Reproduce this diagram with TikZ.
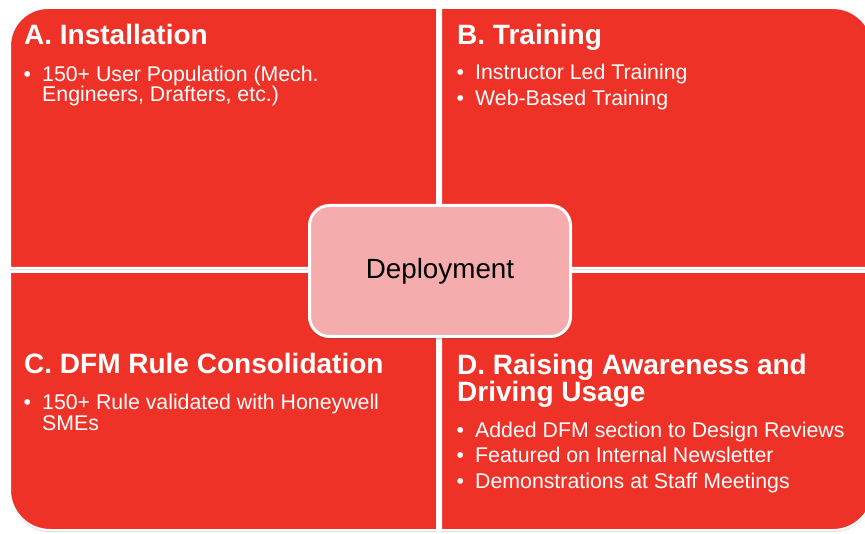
\documentclass[tikz,border=0pt]{standalone}
\usepackage{fontspec}
\setmainfont{Liberation Sans}
\usetikzlibrary{shadows}
\definecolor{quadred}{RGB}{238,50,39}
\definecolor{centerpink}{RGB}{244,173,172}
\begin{document}
\begin{tikzpicture}[x=1pt,y=-1pt,
  quad/.style={fill=quadred, draw=white, line width=2pt,
    drop shadow={shadow xshift=0pt, shadow yshift=-2pt, opacity=0.22, fill=black!60}},
  ttl/.style={anchor=base west, inner sep=0pt, text=white,
    font=\fontsize{28}{28}\selectfont\bfseries},
  bul/.style={anchor=base west, inner sep=0pt, text=white,
    font=\fontsize{21.3}{21}\selectfont},
  centerbox/.style={draw=white, line width=3pt, fill=centerpink, rounded corners=20pt,
    minimum width=261pt, minimum height=131pt, text=black,
    font=\fontsize{27.8}{30}\selectfont,
    drop shadow={shadow xshift=0pt, shadow yshift=-3pt, opacity=0.3, fill=black!70}},
]
\newcommand{\bulletmark}{\makebox[0pt][r]{\textbullet\hspace{11pt}}}
\useasboundingbox (0,0) rectangle (865,534);
\fill[white] (0,0) rectangle (865,534);
\clip (0,0) rectangle (865,534);

% quadrants
\path[quad] (437,268) -- (10,268) -- (10,46) .. controls (10,25) and (27,8) .. (48,8) -- (437,8) -- cycle;
\path[quad] (441,268) -- (441,8) -- (833,8) .. controls (855,8) and (873,26) .. (873,48) -- (873,268) -- cycle;
\path[quad] (10,272) -- (437,272) -- (437,530) -- (50,530) .. controls (28,530) and (10,512) .. (10,490) -- cycle;
\path[quad] (441,272) -- (873,272) -- (873,490) .. controls (873,512) and (855,530) .. (833,530) -- (441,530) -- cycle;

% A
\node[ttl] (ta) at (24,45) {A. Installation};
\node[bul] (a1) at (42,82) {\bulletmark 150+ User Population (Mech.};
\node[bul] (a1b) at (42,102) {Engineers, Drafters, etc.)};

% B
\node[ttl] (tb) at (457,45) {B. Training};
\node[bul] (b1) at (475,80) {\bulletmark Instructor Led Training};
\node[bul] (b2) at (475,106) {\bulletmark Web-Based Training};

% C
\node[ttl] (tc) at (24,374) {C. DFM Rule Consolidation};
\node[bul] (c1) at (42,410) {\bulletmark 150+ Rule validated with Honeywell};
\node[bul] (c1b) at (42,431) {SMEs};

% D
\node[ttl] (td) at (457,375) {D. Raising Awareness and};
\node[ttl] (tdb) at (457,402) {Driving Usage};
\node[bul] (d1) at (475,438) {\bulletmark Added DFM section to Design Reviews};
\node[bul] (d2) at (475,463) {\bulletmark Featured on Internal Newsletter};
\node[bul] (d3) at (475,488) {\bulletmark Demonstrations at Staff Meetings};

% center
\node[centerbox] (dep) at (440,271) {Deployment};
\end{tikzpicture}
\end{document}
